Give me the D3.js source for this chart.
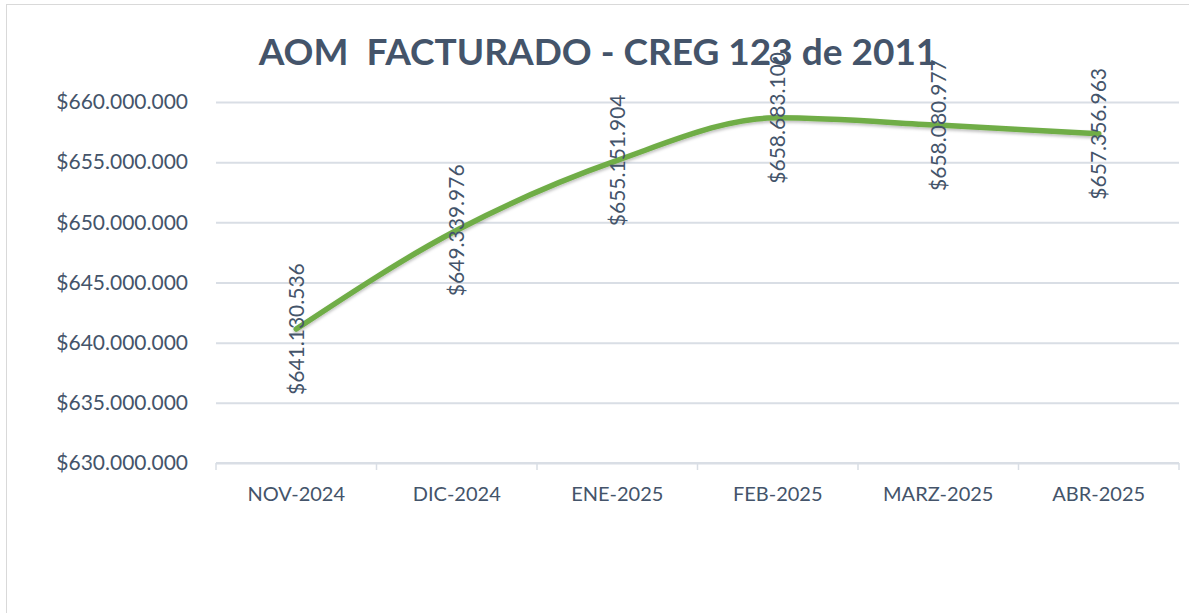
<!DOCTYPE html>
<html>
<head>
<meta charset="utf-8">
<script src="https://cdn.jsdelivr.net/npm/d3@7"></script>
<style>
  html, body { margin: 0; padding: 0; background: #fff; }
  svg { display: block; font-family: Lato, "Open Sans", sans-serif; }
</style>
</head>
<body>
<div id="chart"></div>
<script>
const title = 'AOM  FACTURADO - CREG 123 de 2011'
const months = ['NOV-2024', 'DIC-2024', 'ENE-2025', 'FEB-2025', 'MARZ-2025', 'ABR-2025']
const values = [641130536, 649339976, 655151904, 658683100, 658080977, 657356963]
const yTicks = [630000000, 635000000, 640000000, 645000000, 650000000, 655000000, 660000000]

const W = 1189
const H = 613
const ink = '#44546A'

const locale = d3.formatLocale({ decimal: ',', thousands: '.', grouping: [3], currency: ['$', ''] })
const money = locale.format('$,.0f')

const svg = d3.select('#chart').append('svg')
      .attr('width', W)
      .attr('height', H)

// chart frame
svg.append('rect')
  .attr('x', 6.5).attr('y', 4.5)
  .attr('width', W + 10).attr('height', H + 10)
  .attr('fill', '#fff')
  .attr('stroke', '#D9D9D9')

const x = d3.scaleBand().domain(months).range([216, 1179]).paddingInner(0).paddingOuter(0)
const y = d3.scaleLinear().domain([630000000, 660000000]).range([463, 102])
const cx = d => x(d) + x.bandwidth() / 2

// gridlines + y labels
const yAxis = svg.append('g')
      .attr('transform', 'translate(216,0)')
      .call(d3.axisLeft(y).tickValues(yTicks).tickSize(-(1179 - 216)).tickPadding(28).tickFormat(money))
yAxis.select('.domain').remove()
yAxis.selectAll('.tick line').attr('stroke', '#D9DEE5').attr('stroke-width', 2)
yAxis.selectAll('.tick text')
  .attr('fill', ink)
  .attr('font-size', 21)
  .attr('font-family', 'Lato, sans-serif')

// x axis with boundary ticks
const xAxis = svg.append('g')
xAxis.append('line')
  .attr('x1', 216).attr('x2', 1179)
  .attr('y1', y(630000000)).attr('y2', y(630000000))
  .attr('stroke', '#D9DEE5').attr('stroke-width', 2)
xAxis.selectAll('line.edge')
  .data(months.map(m => x(m)).concat([x(months[months.length - 1]) + x.bandwidth()]))
  .join('line')
  .attr('class', 'edge')
  .attr('x1', d => d).attr('x2', d => d)
  .attr('y1', y(630000000)).attr('y2', y(630000000) + 7)
  .attr('stroke', '#D9DEE5').attr('stroke-width', 1.5)
xAxis.selectAll('text')
  .data(months)
  .join('text')
  .attr('x', cx)
  .attr('y', 501)
  .attr('text-anchor', 'middle')
  .attr('fill', ink)
  .attr('font-size', 20)
  .text(d => d)

// soft shadow for the line
const defs = svg.append('defs')
const f = defs.append('filter').attr('id', 'shadow').attr('x', '-5%').attr('y', '-20%').attr('width', '110%').attr('height', '140%')
f.append('feDropShadow').attr('dx', 0).attr('dy', 2).attr('stdDeviation', 1.5)
  .attr('flood-color', '#000').attr('flood-opacity', 0.25)

const pts = months.map((m, i) => [cx(m), y(values[i])])
svg.append('path')
  .attr('d', d3.line().curve(d3.curveMonotoneX)(pts))
  .attr('fill', 'none')
  .attr('stroke', '#70AD47')
  .attr('stroke-width', 5.5)
  .attr('stroke-linecap', 'round')
  .attr('filter', 'url(#shadow)')

// rotated value labels, centred on each point
svg.append('g').selectAll('text')
  .data(months)
  .join('text')
  .attr('transform', (d, i) => `translate(${cx(d)},${y(values[i])}) rotate(-90)`)
  .attr('text-anchor', 'middle')
  .attr('dy', '0.36em')
  .attr('fill', ink)
  .attr('font-size', 21)
  .text((d, i) => money(values[i]))

svg.append('text')
  .attr('x', 598)
  .attr('y', 65)
  .attr('text-anchor', 'middle')
  .attr('fill', ink)
  .attr('font-size', 37)
  .attr('font-weight', 700)
  .style('white-space', 'pre')
  .text(title)
</script>
</body>
</html>
